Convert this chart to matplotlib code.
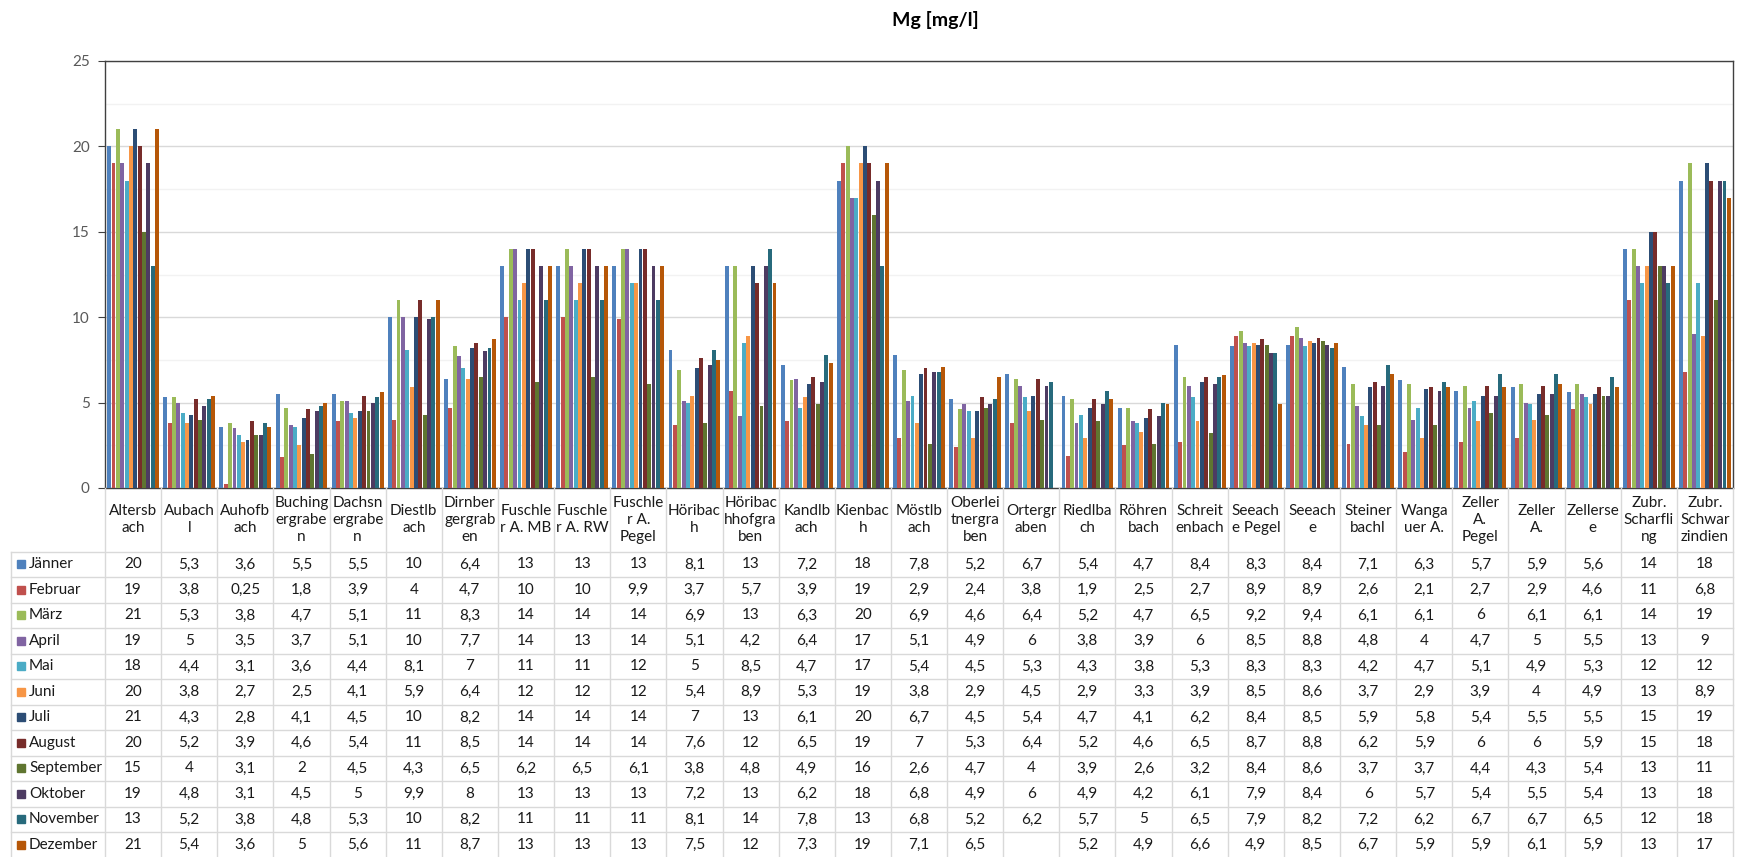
"""
Mg [mg/l] - Monatswerte je Messstelle, Säulendiagramm mit Datentabelle.
"""
import numpy as np
import matplotlib
matplotlib.use("Agg")
import matplotlib.pyplot as plt
from matplotlib.lines import Line2D
from matplotlib.patches import Rectangle
from matplotlib.transforms import blended_transform_factory

plt.rcParams["font.family"] = ["Lato", "DejaVu Sans"]

# ── Daten ──────────────────────────────────────────────────────
stations = [
    "Altersb\nach", "Aubach\nl", "Auhofb\nach", "Buching\nergrabe\nn",
    "Dachsn\nergrabe\nn", "Diestlb\nach", "Dirnber\ngergrab\nen",
    "Fuschle\nr A. MB", "Fuschle\nr A. RW", "Fuschle\nr A.\nPegel",
    "Höribac\nh", "Höribac\nhhofgra\nben", "Kandlb\nach", "Kienbac\nh",
    "Möstlb\nach", "Oberlei\ntnergra\nben", "Ortergr\naben", "Riedlba\nch",
    "Röhren\nbach", "Schreit\nenbach", "Seeach\ne Pegel", "Seeach\ne",
    "Steiner\nbachl", "Wanga\nuer A.", "Zeller\nA.\nPegel", "Zeller\nA.",
    "Zellerse\ne", "Zubr.\nScharfli\nng", "Zubr.\nSchwar\nzindien",
]

months = ["Jänner", "Februar", "März", "April", "Mai", "Juni", "Juli",
          "August", "September", "Oktober", "November", "Dezember"]

colors = ["#4F81BD", "#C0504D", "#9BBB59", "#8064A2", "#4BACC6", "#F79646",
          "#2C4D75", "#772C2A", "#5F7530", "#4D3B62", "#276A7C", "#B65708"]

jaenner = [20, 5.3, 3.6, 5.5, 5.5, 10, 6.4, 13, 13, 13, 8.1, 13, 7.2, 18, 7.8,
           5.2, 6.7, 5.4, 4.7, 8.4, 8.3, 8.4, 7.1, 6.3, 5.7, 5.9, 5.6, 14, 18]
februar = [19, 3.8, 0.25, 1.8, 3.9, 4, 4.7, 10, 10, 9.9, 3.7, 5.7, 3.9, 19, 2.9,
           2.4, 3.8, 1.9, 2.5, 2.7, 8.9, 8.9, 2.6, 2.1, 2.7, 2.9, 4.6, 11, 6.8]
maerz = [21, 5.3, 3.8, 4.7, 5.1, 11, 8.3, 14, 14, 14, 6.9, 13, 6.3, 20, 6.9,
         4.6, 6.4, 5.2, 4.7, 6.5, 9.2, 9.4, 6.1, 6.1, 6, 6.1, 6.1, 14, 19]
april = [19, 5, 3.5, 3.7, 5.1, 10, 7.7, 14, 13, 14, 5.1, 4.2, 6.4, 17, 5.1,
         4.9, 6, 3.8, 3.9, 6, 8.5, 8.8, 4.8, 4, 4.7, 5, 5.5, 13, 9]
mai = [18, 4.4, 3.1, 3.6, 4.4, 8.1, 7, 11, 11, 12, 5, 8.5, 4.7, 17, 5.4,
       4.5, 5.3, 4.3, 3.8, 5.3, 8.3, 8.3, 4.2, 4.7, 5.1, 4.9, 5.3, 12, 12]
juni = [20, 3.8, 2.7, 2.5, 4.1, 5.9, 6.4, 12, 12, 12, 5.4, 8.9, 5.3, 19, 3.8,
        2.9, 4.5, 2.9, 3.3, 3.9, 8.5, 8.6, 3.7, 2.9, 3.9, 4, 4.9, 13, 8.9]
juli = [21, 4.3, 2.8, 4.1, 4.5, 10, 8.2, 14, 14, 14, 7, 13, 6.1, 20, 6.7,
        4.5, 5.4, 4.7, 4.1, 6.2, 8.4, 8.5, 5.9, 5.8, 5.4, 5.5, 5.5, 15, 19]
august = [20, 5.2, 3.9, 4.6, 5.4, 11, 8.5, 14, 14, 14, 7.6, 12, 6.5, 19, 7,
          5.3, 6.4, 5.2, 4.6, 6.5, 8.7, 8.8, 6.2, 5.9, 6, 6, 5.9, 15, 18]
september = [15, 4, 3.1, 2, 4.5, 4.3, 6.5, 6.2, 6.5, 6.1, 3.8, 4.8, 4.9, 16, 2.6,
             4.7, 4, 3.9, 2.6, 3.2, 8.4, 8.6, 3.7, 3.7, 4.4, 4.3, 5.4, 13, 11]
oktober = [19, 4.8, 3.1, 4.5, 5, 9.9, 8, 13, 13, 13, 7.2, 13, 6.2, 18, 6.8,
           4.9, 6, 4.9, 4.2, 6.1, 7.9, 8.4, 6, 5.7, 5.4, 5.5, 5.4, 13, 18]
november = [13, 5.2, 3.8, 4.8, 5.3, 10, 8.2, 11, 11, 11, 8.1, 14, 7.8, 13, 6.8,
            5.2, 6.2, 5.7, 5, 6.5, 7.9, 8.2, 7.2, 6.2, 6.7, 6.7, 6.5, 12, 18]
dezember = [21, 5.4, 3.6, 5, 5.6, 11, 8.7, 13, 13, 13, 7.5, 12, 7.3, 19, 7.1,
            6.5, None, 5.2, 4.9, 6.6, 4.9, 8.5, 6.7, 5.9, 5.9, 6.1, 5.9, 13, 17]

series = [jaenner, februar, maerz, april, mai, juni, juli,
          august, september, oktober, november, dezember]

# ── Layout (Pixel) ─────────────────────────────────────────────
W, H = 1739, 857
AX_L, AX_R, AX_T, AX_B = 105, 1733, 61, 488
ROW0, ROW_H = 551.7, 25.5
LEG_L = 11
GRID = "#D9D9D9"
FS = 11


def fy(px):
    """Pixel-y (von oben) -> Figure-Anteil."""
    return 1 - px / H


def fmt(v):
    return f"{v:g}".replace(".", ",")


fig = plt.figure(figsize=(W / 100, H / 100), dpi=100)
ax = fig.add_axes([AX_L / W, fy(AX_B), (AX_R - AX_L) / W, (AX_B - AX_T) / H])

n = len(stations)
x = np.arange(n)
group = 0.93
step = group / len(series)

for k, (vals, col) in enumerate(zip(series, colors)):
    v = np.array([np.nan if a is None else a for a in vals], dtype=float)
    offs = -group / 2 + step * (k + 0.5)
    ax.bar(x + offs, v, width=step * 0.9, color=col, linewidth=0, zorder=3)

ax.set_xlim(-0.5, n - 0.5)
ax.set_ylim(0, 25)
ax.set_yticks(np.arange(0, 26, 5))
ax.set_yticks(np.arange(0, 25, 2.5), minor=True)
ax.set_xticks([])
ax.grid(axis="y", which="major", color=GRID, linewidth=1, zorder=0)
ax.grid(axis="y", which="minor", color="#F2F2F2", linewidth=1, zorder=0)
ax.tick_params(axis="y", which="major", labelsize=FS, labelcolor="#595959",
               color="#404040", length=5, pad=6)
ax.tick_params(axis="y", which="minor", length=0)
for s in ax.spines.values():
    s.set_color("#404040")
    s.set_linewidth(1)

fig.text(935 / W, fy(20), "Mg [mg/l]", ha="center", va="center",
         fontsize=14, fontweight="bold")

# ── Datentabelle ───────────────────────────────────────────────
tr = blended_transform_factory(ax.transData, fig.transFigure)
bottom = H + 2
n_rows = len(series)

# Spaltentrenner
for i in range(n + 1):
    fig.add_artist(Line2D([i - 0.5, i - 0.5], [fy(AX_B), fy(bottom)],
                          transform=tr, color=GRID, linewidth=1))
# Zeilentrenner
for r in range(n_rows + 1):
    yy = fy(ROW0 + r * ROW_H)
    fig.add_artist(Line2D([LEG_L / W, AX_R / W], [yy, yy],
                          transform=fig.transFigure, color=GRID, linewidth=1))
fig.add_artist(Line2D([LEG_L / W, LEG_L / W], [fy(ROW0), fy(bottom)],
                      transform=fig.transFigure, color=GRID, linewidth=1))

# Kopfzeile
for i, name in enumerate(stations):
    fig.text(i, fy((AX_B + ROW0) / 2), name, transform=tr, ha="center",
             va="center", fontsize=FS, linespacing=1.25, color="#1A1A1A")

# Zeilen
for r, (month, col, vals) in enumerate(zip(months, colors, series)):
    yc = ROW0 + ROW_H * (r + 0.5)
    fig.add_artist(Rectangle((17 / W, fy(yc + 4)), 8 / W, 8 / H,
                             transform=fig.transFigure, color=col))
    fig.text(29 / W, fy(yc), month, ha="left", va="center", fontsize=FS,
             color="#1A1A1A")
    for i, v in enumerate(vals):
        if v is None:
            continue
        fig.text(i, fy(yc), fmt(v), transform=tr, ha="center", va="center",
                 fontsize=FS, color="#1A1A1A")

fig.savefig("out.png", dpi=100)
